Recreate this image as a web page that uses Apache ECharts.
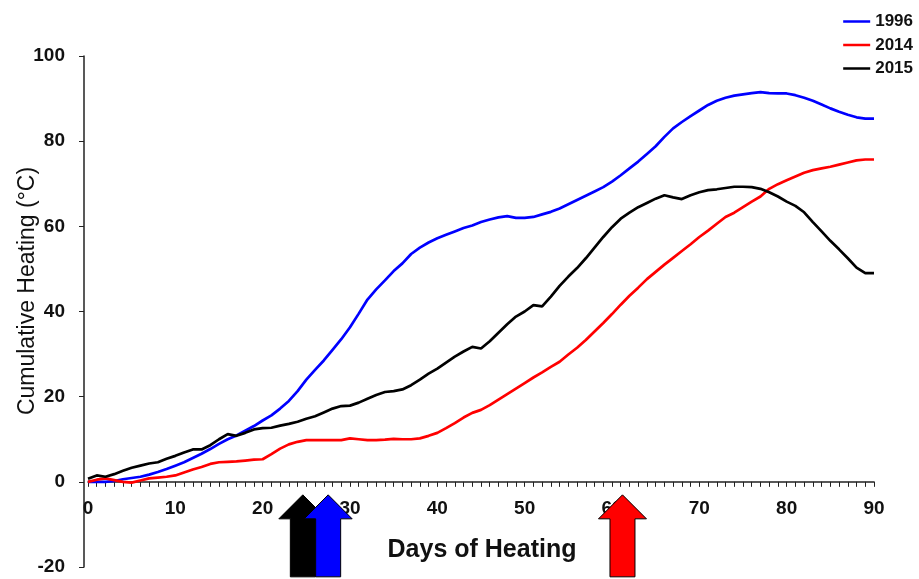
<!DOCTYPE html>
<html>
<head>
<meta charset="utf-8">
<script src="https://cdn.jsdelivr.net/npm/echarts@6/dist/echarts.min.js"></script>
<style>html,body{margin:0;padding:0;background:#fff}#c{width:919px;height:579px}</style>
</head>
<body>
<div id="c"></div>
<script>
var days = [];
for (var d = 0; d <= 90; d++) days.push(d);

var y1996 = [0,0,0,0.2,0.6,0.9,1.2,1.7,2.3,3.0,3.8,4.6,5.6,6.6,7.7,8.9,10.0,10.9,12.0,13.1,14.4,15.6,17.2,19.0,21.3,24.0,26.3,28.5,31.0,33.5,36.3,39.5,42.8,45.2,47.3,49.5,51.3,53.5,55.0,56.2,57.2,58.0,58.8,59.6,60.2,61.0,61.6,62.1,62.4,62.0,62.0,62.2,62.8,63.4,64.2,65.2,66.2,67.2,68.2,69.2,70.5,72.0,73.6,75.2,77.0,78.8,81.0,83.0,84.5,85.9,87.2,88.5,89.5,90.2,90.7,91.0,91.3,91.5,91.3,91.2,91.2,90.8,90.2,89.5,88.6,87.7,86.9,86.2,85.6,85.3,85.3];
var y2014 = [0,0.5,0.8,0.4,0,-0.2,0.3,0.8,1.0,1.2,1.5,2.2,2.9,3.5,4.2,4.6,4.7,4.8,5.0,5.2,5.3,6.5,7.8,8.8,9.4,9.8,9.8,9.8,9.8,9.8,10.2,10.0,9.8,9.8,9.9,10.1,10.0,10.0,10.2,10.8,11.5,12.6,13.8,15.1,16.2,16.9,18.0,19.3,20.6,21.9,23.2,24.5,25.7,27.0,28.2,29.9,31.5,33.3,35.3,37.3,39.4,41.6,43.7,45.6,47.6,49.3,51.0,52.6,54.2,55.8,57.5,59.0,60.6,62.2,63.2,64.5,65.8,67.0,68.8,69.9,70.8,71.7,72.6,73.2,73.6,74.0,74.5,75.0,75.5,75.7,75.7];
var y2015 = [0.7,1.5,1.2,1.8,2.6,3.3,3.8,4.3,4.6,5.4,6.1,6.9,7.6,7.6,8.6,10.0,11.2,10.8,11.5,12.3,12.6,12.7,13.2,13.6,14.1,14.8,15.4,16.3,17.2,17.8,17.9,18.6,19.5,20.4,21.1,21.3,21.7,22.7,24.0,25.4,26.6,28.0,29.4,30.6,31.7,31.3,33.0,35.0,37.0,38.8,40.0,41.5,41.2,43.5,46.0,48.2,50.2,52.5,55.0,57.5,59.8,61.8,63.2,64.5,65.5,66.5,67.3,66.8,66.4,67.3,68.0,68.5,68.7,69.0,69.3,69.3,69.2,68.8,68.0,67.0,65.8,64.8,63.3,61.0,58.8,56.6,54.6,52.5,50.3,49.0,49.0];

var arrowDays = [24.6, 27.5, 61.2];
var arrowColors = ['#000000', '#0000ff', '#ff0000'];

var xTicks = [0,10,20,30,40,50,60,70,80,90];
var yTicks = [-20,0,20,40,60,80,100];

function pairs(ys) { return days.map(function (d, i) { return [d, ys[i]]; }); }

var chart = echarts.init(document.getElementById('c'));
var font = 'Liberation Sans, Arial, sans-serif';
chart.setOption({
  animation: false,
  backgroundColor: '#fff',
  grid: { left: 88, right: 45, top: 56, bottom: 12, containLabel: false, outerBoundsMode: 'none' },
  legend: {
    orient: 'vertical', right: 2, top: 9, padding: 4,
    icon: 'path://M0,0 L27,0 L27,2.5 L0,2.5 Z', itemWidth: 27, itemHeight: 2.5, itemGap: 6.5,
    textStyle: { fontFamily: font, fontWeight: 'bold', fontSize: 17, color: '#111', lineHeight: 17 },
    data: ['1996', '2014', '2015']
  },
  xAxis: {
    type: 'value', min: xTicks[0], max: xTicks[xTicks.length - 1], interval: 10,
    axisLine: { onZero: true, lineStyle: { color: '#222', width: 1.5 } },
    axisTick: { show: true, length: 5, lineStyle: { color: '#222' } },
    minorTick: { show: true, splitNumber: 10, length: 5, lineStyle: { color: '#222' } },
    splitLine: { show: false },
    axisLabel: { margin: -68, fontFamily: font, fontWeight: 'bold', fontSize: 19, color: '#111' }
  },
  yAxis: {
    type: 'value', min: yTicks[0], max: yTicks[yTicks.length - 1], interval: 20, offset: 4,
    axisLine: { show: true, onZero: false, lineStyle: { color: '#222', width: 1.5 } },
    axisTick: { show: true, length: 5, lineStyle: { color: '#222' } },
    splitLine: { show: false },
    axisLabel: { margin: 19, fontFamily: font, fontWeight: 'bold', fontSize: 19, color: '#111' }
  },
  graphic: [{
    type: 'text', x: 28, y: 291, rotation: Math.PI / 2,
    style: { text: 'Cumulative Heating (°C)', fontFamily: font, fontSize: 23, fill: '#111', align: 'center', verticalAlign: 'middle' }
  }, {
    type: 'text', x: 482, y: 550,
    style: { text: 'Days of Heating', fontFamily: font, fontWeight: 'bold', fontSize: 25, fill: '#111', align: 'center', verticalAlign: 'middle' }
  }],
  series: [
    { name: '1996', type: 'line', symbol: 'none', data: pairs(y1996), lineStyle: { color: '#0000ff', width: 2.7 }, itemStyle: { color: '#0000ff' } },
    { name: '2014', type: 'line', symbol: 'none', data: pairs(y2014), lineStyle: { color: '#ff0000', width: 2.7 }, itemStyle: { color: '#ff0000' } },
    { name: '2015', type: 'line', symbol: 'none', data: pairs(y2015), lineStyle: { color: '#000000', width: 2.7 }, itemStyle: { color: '#000000' } },
    {
      type: 'custom', clip: false, z: 10,
      data: arrowDays.map(function (d, i) { return [d, 0, i]; }),
      renderItem: function (params, api) {
        var p = api.coord([api.value(0), api.value(1)]);
        var cx = p[0], y0 = p[1];
        var tip = y0 + 13, base = y0 + 37, bot = y0 + 95, hw = 24, sw = 12.5;
        return {
          type: 'polygon',
          shape: { points: [[cx, tip], [cx + hw, base], [cx + sw, base], [cx + sw, bot], [cx - sw, bot], [cx - sw, base], [cx - hw, base]] },
          style: { fill: arrowColors[api.value(2)], stroke: '#000', lineWidth: 1 }
        };
      }
    }
  ]
});
</script>
</body>
</html>
